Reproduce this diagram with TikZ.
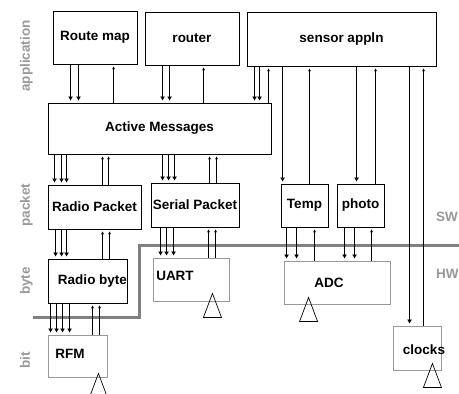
\documentclass[tikz,border=0pt]{standalone}
\usepackage{fontspec}
\setmainfont{Liberation Sans}
\usetikzlibrary{arrows.meta}

\begin{document}
\begin{tikzpicture}[x=1pt, y=-1pt,
    caja/.style={draw, line width=0.9pt, inner sep=0pt, font=\fontsize{13.5}{15}\selectfont\bfseries},
    hw/.style={draw=black!40, line width=0.9pt, inner sep=0pt},
    etq/.style={inner sep=0pt, font=\fontsize{13.5}{15}\selectfont\bfseries},
    capa/.style={text=black!40, inner sep=0pt, font=\fontsize{13.5}{15}\selectfont\bfseries},
    baja/.style={line width=0.7pt, shorten >=2pt, -{Latex[length=4pt,width=5pt]}},
    sube/.style={line width=0.7pt, shorten >=2pt, -{Stealth[length=3pt,width=3pt]}},
    antena/.style={draw, line width=0.7pt}]

    \useasboundingbox (0,0) rectangle (459,394);

    % Capas
    \node[capa, rotate=90, anchor=base] (lapp) at (30,56) {application};
    \node[capa, rotate=90, anchor=base] (lpkt) at (30,205) {packet};
    \node[capa, rotate=90, anchor=base] (lbyte) at (30,281) {byte};
    \node[capa, rotate=90, anchor=base] (lbit) at (30,360) {bit};
    \node[capa, anchor=west] (lsw) at (436,217) {SW};
    \node[capa, anchor=west] (lhw) at (436,274) {HW};

    % Frontera SW/HW
    \draw[black!50, line width=3pt] (33,317) -- (139,317) -- (139,245) -- (459,245);

    % Nodos
    \node[caja, minimum width=84pt, minimum height=53pt] (rmap) at (95,37.5) {Route map};
    \node[caja, minimum width=94pt, minimum height=53pt] (router) at (192,38.5) {router};
    \node[caja, minimum width=189pt, minimum height=54pt] (sensor) at (341.5,39) {sensor appln};

    \node[caja, minimum width=223pt, minimum height=51pt] (am) at (159.5,128.5) {Active Messages};

    \node[caja, minimum width=93pt, minimum height=44pt] (rpkt) at (94.5,207) {Radio Packet};
    \node[caja, minimum width=88pt, minimum height=44pt] (spkt) at (195,205) {Serial Packet};
    \node[caja, minimum width=47pt, minimum height=43pt] (temp) at (304.5,205.5) {Temp};
    \node[caja, minimum width=47pt, minimum height=43pt] (photo) at (360.5,205.5) {photo};

    \node[caja, minimum width=75pt, minimum height=44pt] (rbyte) at (87.5,281) {\hspace*{10pt}Radio byte};
    \node[hw, minimum width=76pt, minimum height=43pt, label={[etq, xshift=-16pt, yshift=3.5pt]center:UART}] (uart) at (191,279.5) {};
    \node[hw, minimum width=106pt, minimum height=43pt, label={[etq, xshift=-8pt, yshift=-0.5pt]center:ADC}] (adc) at (337,282.5) {};

    \node[hw, minimum width=59pt, minimum height=42pt, label={[etq, xshift=-7.5pt, yshift=2pt]center:RFM}] (rfm) at (77.5,356) {};
    \node[hw, minimum width=48pt, minimum height=44pt, label={[etq, xshift=7pt, yshift=-2pt]center:clocks}] (clocks) at (417,348) {};

    % Antenas
    \draw[antena] ([xshift=-17pt,yshift=8pt]uart.south east) -- ++(-9,24) -- ++(18,0) -- cycle;
    \draw[antena] ([xshift=25pt,yshift=7pt]adc.south west) -- ++(-9,24) -- ++(18,0) -- cycle;
    \draw[antena] ([xshift=-9pt,yshift=7pt]clocks.south east) -- ++(-9,24) -- ++(18,0) -- cycle;
    \draw[antena] ([xshift=-9pt,yshift=4pt]rfm.south east) -- ++(-9,24) -- ++(18,0) -- cycle;

    % Flechas: aplicacion -> Active Messages
    \draw[baja] ([xshift=18pt]rmap.south west) -- ([xshift=18pt]rmap.south west |- am.north);
    \draw[baja] ([xshift=26pt]rmap.south west) -- ([xshift=26pt]rmap.south west |- am.north);
    \draw[sube] ([xshift=61pt]rmap.south west |- am.north) -- ([xshift=61pt]rmap.south west);
    \draw[baja] ([xshift=18pt]router.south west) -- ([xshift=18pt]router.south west |- am.north);
    \draw[baja] ([xshift=25pt]router.south west) -- ([xshift=25pt]router.south west |- am.north);
    \draw[sube] ([xshift=59pt]router.south west |- am.north) -- ([xshift=59pt]router.south west);
    \draw[baja] ([xshift=8pt]sensor.south west) -- ([xshift=8pt]sensor.south west |- am.north);
    \draw[baja] ([xshift=13pt]sensor.south west) -- ([xshift=13pt]sensor.south west |- am.north);
    \draw[sube] ([xshift=22pt]sensor.south west |- am.north) -- ([xshift=22pt]sensor.south west);

    % Flechas: sensor appln -> Temp, photo, clocks
    \draw[baja] ([xshift=36pt]sensor.south west) -- ([xshift=36pt]sensor.south west |- temp.north);
    \draw[sube] ([xshift=63pt]sensor.south west |- temp.north) -- ([xshift=63pt]sensor.south west);
    \draw[baja] ([xshift=110pt]sensor.south west) -- ([xshift=110pt]sensor.south west |- photo.north);
    \draw[sube] ([xshift=129pt]sensor.south west |- photo.north) -- ([xshift=129pt]sensor.south west);
    \draw[baja] ([xshift=163pt]sensor.south west) -- ([xshift=163pt]sensor.south west |- clocks.north);
    \draw[sube] ([xshift=177pt]sensor.south west |- clocks.north) -- ([xshift=177pt]sensor.south west);

    % Flechas: Active Messages -> paquetes
    \draw[baja] ([xshift=7pt]am.south west) -- ([xshift=7pt]am.south west |- rpkt.north);
    \draw[baja] ([xshift=14pt]am.south west) -- ([xshift=14pt]am.south west |- rpkt.north);
    \draw[baja] ([xshift=19pt]am.south west) -- ([xshift=19pt]am.south west |- rpkt.north);
    \draw[sube] ([xshift=55pt]am.south west |- rpkt.north) -- ([xshift=55pt]am.south west);
    \draw[sube] ([xshift=61pt]am.south west |- rpkt.north) -- ([xshift=61pt]am.south west);
    \draw[baja] ([xshift=115pt]am.south west) -- ([xshift=115pt]am.south west |- spkt.north);
    \draw[baja] ([xshift=121pt]am.south west) -- ([xshift=121pt]am.south west |- spkt.north);
    \draw[baja] ([xshift=127pt]am.south west) -- ([xshift=127pt]am.south west |- spkt.north);
    \draw[sube] ([xshift=162pt]am.south west |- spkt.north) -- ([xshift=162pt]am.south west);
    \draw[sube] ([xshift=169pt]am.south west |- spkt.north) -- ([xshift=169pt]am.south west);

    % Flechas: paquetes -> bytes
    \draw[baja] ([xshift=8pt]rpkt.south west) -- ([xshift=8pt]rpkt.south west |- rbyte.north);
    \draw[baja] ([xshift=14pt]rpkt.south west) -- ([xshift=14pt]rpkt.south west |- rbyte.north);
    \draw[baja] ([xshift=19pt]rpkt.south west) -- ([xshift=19pt]rpkt.south west |- rbyte.north);
    \draw[sube] ([xshift=55pt]rpkt.south west |- rbyte.north) -- ([xshift=55pt]rpkt.south west);
    \draw[sube] ([xshift=62pt]rpkt.south west |- rbyte.north) -- ([xshift=62pt]rpkt.south west);
    \draw[baja] ([xshift=10pt]spkt.south west) -- ([xshift=10pt]spkt.south west |- uart.north);
    \draw[baja] ([xshift=16pt]spkt.south west) -- ([xshift=16pt]spkt.south west |- uart.north);
    \draw[baja] ([xshift=23pt]spkt.south west) -- ([xshift=23pt]spkt.south west |- uart.north);
    \draw[sube] ([xshift=58pt]spkt.south west |- uart.north) -- ([xshift=58pt]spkt.south west);
    \draw[sube] ([xshift=65pt]spkt.south west |- uart.north) -- ([xshift=65pt]spkt.south west);

    % Flechas: Radio byte -> RFM
    \draw[baja] ([xshift=3pt]rbyte.south west) -- ([xshift=3pt]rbyte.south west |- rfm.north);
    \draw[baja] ([xshift=9pt]rbyte.south west) -- ([xshift=9pt]rbyte.south west |- rfm.north);
    \draw[baja] ([xshift=15pt]rbyte.south west) -- ([xshift=15pt]rbyte.south west |- rfm.north);
    \draw[baja] ([xshift=22pt]rbyte.south west) -- ([xshift=22pt]rbyte.south west |- rfm.north);
    \draw[sube] ([xshift=45pt]rbyte.south west |- rfm.north) -- ([xshift=45pt]rbyte.south west);
    \draw[sube] ([xshift=52pt]rbyte.south west |- rfm.north) -- ([xshift=52pt]rbyte.south west);

    % Flechas: sensores -> ADC
    \draw[baja] ([xshift=6pt]temp.south west) -- ([xshift=6pt]temp.south west |- adc.north);
    \draw[baja] ([xshift=16pt]temp.south west) -- ([xshift=16pt]temp.south west |- adc.north);
    \draw[sube] ([xshift=34pt]temp.south west |- adc.north) -- ([xshift=34pt]temp.south west);
    \draw[baja] ([xshift=8pt]photo.south west) -- ([xshift=8pt]photo.south west |- adc.north);
    \draw[baja] ([xshift=18pt]photo.south west) -- ([xshift=18pt]photo.south west |- adc.north);
    \draw[sube] ([xshift=35pt]photo.south west |- adc.north) -- ([xshift=35pt]photo.south west);

\end{tikzpicture}
\end{document}
